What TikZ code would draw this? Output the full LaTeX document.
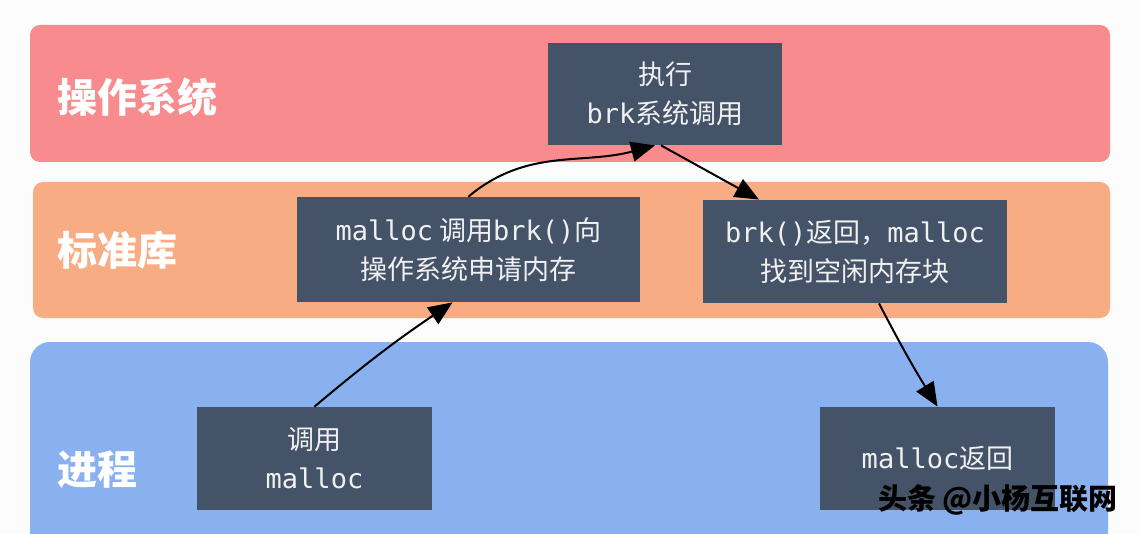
\documentclass[tikz,border=0pt]{standalone}
\usepackage{fontspec}
\setmainfont{Noto Sans CJK SC}
\newfontfamily\monof{DejaVu Sans Mono}
\usetikzlibrary{arrows.meta,calc}
\definecolor{osred}{RGB}{248,139,142}
\definecolor{liborange}{RGB}{248,172,132}
\definecolor{procblue}{RGB}{138,177,239}
\definecolor{boxslate}{RGB}{69,83,104}
\definecolor{boxtext}{RGB}{240,240,240}
\newcommand{\mt}[1]{{\monof #1}}
\tikzset{
  band/.style={rounded corners=5pt},
  lanelabel/.style={anchor=west, text=white, font=\fontsize{20}{22}\selectfont\bfseries},
  box/.style={fill=boxslate, text=boxtext, align=center, inner sep=0pt,
    font=\fontsize{13.5}{19.5}\selectfont},
  flow/.style={line width=1pt, draw=black, -{Triangle[length=12pt,width=10pt]}}
}
\begin{document}
\begin{tikzpicture}[x=0.5pt,y=-0.5pt]
\useasboundingbox (0,0) rectangle (1140,534);
\fill[white!99!black] (0,0) rectangle (1140,534);
% bands
\fill[band, osred] (30,25) rectangle (1110,162);
\fill[band, liborange] (33,182) rectangle (1110,318);
\fill[band, procblue, rounded corners=10pt] (30,342) rectangle (1108,560);
% lane labels
\node[lanelabel] (os) at (50,97) {操作系统};
\node[lanelabel] (lib) at (50,250) {标准库};
\node[lanelabel] (proc) at (50,470) {进程};
% boxes
\node[box, minimum width=117pt, minimum height=51pt] (exec) at (665,94) {执行\\\mt{brk}系统调用};
\node[box, minimum width=171.5pt, minimum height=52.5pt] (mreq) at (468.5,249.5) {\mt{malloc} 调用\mt{brk()}向\\操作系统申请内存};
\node[box, minimum width=152pt, minimum height=51.5pt] (bret) at (855,251.5) {\mt{brk()}返回，\mt{malloc}\\找到空闲内存块};
\node[box, minimum width=117.5pt, minimum height=51.5pt] (call) at (314.5,458.5) {调用\\\mt{malloc}};
\node[box, minimum width=117.5pt, minimum height=51.5pt] (mret) at (937.5,458.5) {\mt{malloc}返回};
% connectors
\draw[flow] (call.north) to[bend left=3] ([xshift=-8pt]mreq.south);
\draw[flow] (mreq.north) to[out=40,in=195] ([xshift=-5pt]exec.south);
\draw[flow] ([xshift=-2pt]exec.south) -- ([xshift=-48pt]bret.north);
\draw[flow] ([xshift=12pt]bret.south) to[bend right=2] (mret.north);
% watermark
\node[anchor=east, font=\fontsize{14.5}{16}\selectfont\bfseries, text=black] (wm) at (1125,500) {头条 @小杨互联网};
\end{tikzpicture}
\end{document}
